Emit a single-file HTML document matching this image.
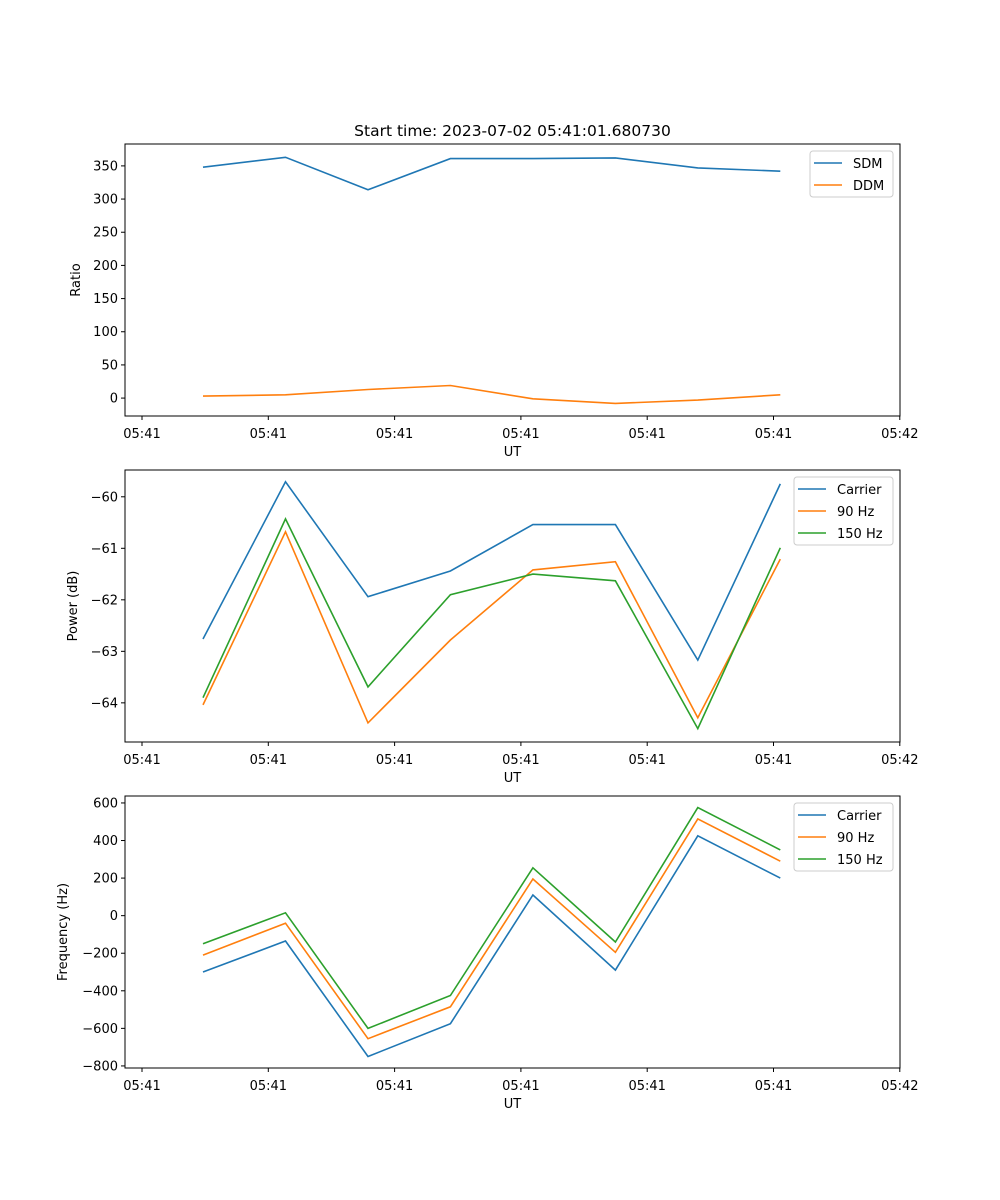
<!DOCTYPE html>
<html><head><meta charset="utf-8"><style>body{margin:0;background:#fff}svg{display:block;font-family:"DejaVu Sans","Liberation Sans",sans-serif}</style></head>
<body>
<svg id="c" width="1000" height="1200" viewBox="0 0 1000 1200"></svg>
<script>
const times=[4.83,11.36,17.89,24.42,30.95,37.48,44.01,50.54];
const xTicks=[0,10,20,30,40,50,60];
const xTickLabels=["05:41","05:41","05:41","05:41","05:41","05:41","05:42"];
const sdm=[348,363,314,361,361,362,347,342];
const ddm=[3,5,13,19,-1,-8,-3,5];
const carrierPow=[-62.76,-59.71,-61.94,-61.44,-60.54,-60.54,-63.17,-59.75];
const hz90Pow=[-64.04,-60.68,-64.39,-62.78,-61.42,-61.26,-64.29,-61.21];
const hz150Pow=[-63.90,-60.43,-63.69,-61.90,-61.50,-61.63,-64.50,-60.99];
const carrierFreq=[-300,-135,-750,-575,110,-290,425,200];
const hz90Freq=[-210,-40,-655,-485,195,-195,515,290];
const hz150Freq=[-150,15,-600,-425,255,-140,575,350];
const ratioTicks=[0,50,100,150,200,250,300,350];
const powTicks=[-64,-63,-62,-61,-60];
const freqTicks=[-800,-600,-400,-200,0,200,400,600];

const svg=document.getElementById('c');const NS='http://www.w3.org/2000/svg';
function mk(t,a,p){const e=document.createElementNS(NS,t);for(const k in a)e.setAttribute(k,a[k]);(p||svg).appendChild(e);return e;}
const L=125,R=900;
const xs=t=>142+t*12.63;
function panel(name,top,bot,ymin,ymax,yticks,ylabel,series,legend,title){
  const g=mk('g',{});  
  const ys=v=>bot-(v-ymin)/(ymax-ymin)*(bot-top);
  series.forEach(s=>{const pts=s.d.map((v,i)=>xs(times[i]).toFixed(1)+','+ys(v).toFixed(1)).join(' ');
    const pl=mk('polyline',{points:pts,fill:'none',stroke:s.c,'stroke-width':1.6},g);
    });
  mk('rect',{x:L,y:top,width:R-L,height:bot-top,fill:'none',stroke:'#000','stroke-width':1},g);
  xTicks.forEach((t,i)=>{const x=xs(t);mk('line',{x1:x,x2:x,y1:bot,y2:bot+4,stroke:'#000'},g);
    const tx=mk('text',{x:x,y:bot+22,'font-size':13,'text-anchor':'middle'},g);tx.textContent=xTickLabels[i];
    });
  yticks.forEach(v=>{const y=ys(v);mk('line',{x1:L-4,x2:L,y1:y,y2:y,stroke:'#000'},g);
    const tx=mk('text',{x:L-7,y:y+4.5,'font-size':13,'text-anchor':'end'},g);tx.textContent=v<0?'\u2212'+(-v):v;
    });
  const xl=mk('text',{x:(L+R)/2,y:bot+40,'font-size':13,'text-anchor':'middle'},g);xl.textContent='UT';
  
  const yl=mk('text',{x:0,y:0,'font-size':13,'text-anchor':'middle',transform:`translate(${legend.yx},${(top+bot)/2}) rotate(-90)`},g);yl.textContent=ylabel;
  
  if(title){const tt=mk('text',{x:(L+R)/2,y:top-8,'font-size':15.5,'text-anchor':'middle'},g);tt.textContent=title;
    }
  const lg=mk('g',{},g);
  mk('rect',{x:legend.x,y:top+7,width:R-7-legend.x,height:series.length*22+2,rx:3,fill:'#fff',stroke:'#ccc','fill-opacity':0.8},lg);
  series.forEach((s,i)=>{const y=top+19+i*22;mk('line',{x1:legend.x+4,x2:legend.x+32,y1:y,y2:y,stroke:s.c,'stroke-width':1.6},lg);
    const t=mk('text',{x:legend.x+43,y:y+5,'font-size':13},lg);t.textContent=s.label;
    });
}
const B='#1f77b4',O='#ff7f0e',G='#2ca02c';
panel('ratio',144,416,-27,383,ratioTicks,'Ratio',[{id:'sdm',d:sdm,c:B,label:'SDM'},{id:'ddm',d:ddm,c:O,label:'DDM'}],{x:810,yx:80},'Start time: 2023-07-02 05:41:01.680730');
panel('power',470,742,-64.76,-59.48,powTicks,'Power (dB)',[{id:'carrier',d:carrierPow,c:B,label:'Carrier'},{id:'90hz',d:hz90Pow,c:O,label:'90 Hz'},{id:'150hz',d:hz150Pow,c:G,label:'150 Hz'}],{x:794,yx:77});
panel('frequency',796,1068,-811,637,freqTicks,'Frequency (Hz)',[{id:'carrier',d:carrierFreq,c:B,label:'Carrier'},{id:'90hz',d:hz90Freq,c:O,label:'90 Hz'},{id:'150hz',d:hz150Freq,c:G,label:'150 Hz'}],{x:794,yx:67});
</script>
</body></html>
